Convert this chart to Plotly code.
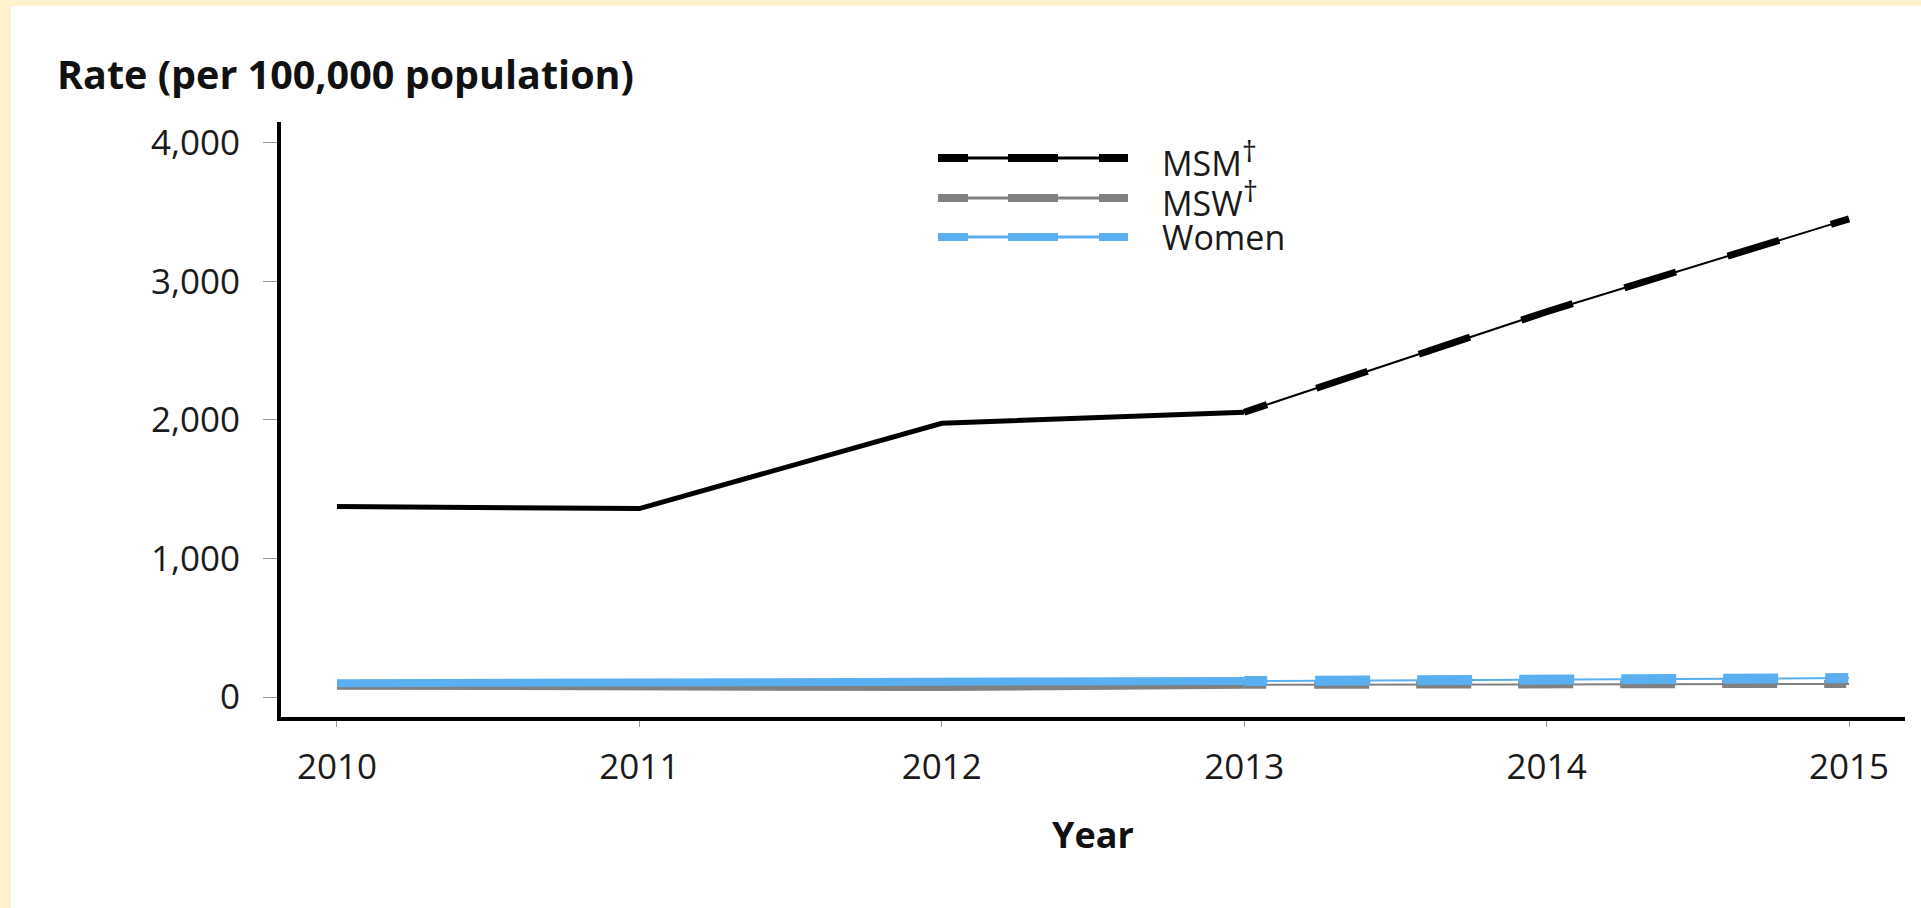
import plotly.graph_objects as go

years = [2010, 2011, 2012, 2013, 2014, 2015]
msm = [1375, 1360, 1975, 2055, 2780, 3450]
msw = [82, 80, 72, 88, 92, 95]
women = [100, 102, 110, 115, 125, 137]

legend_names = [
    "MSM<sup><span style='font-size:30px'>†</span></sup>",
    "MSW<sup><span style='font-size:30px'>†</span></sup>",
    "Women",
]
y_ticks = [0, 1000, 2000, 3000, 4000]

BLACK = "#000000"
GRAY = "#808080"
BLUE = "#5aaff0"
YELLOW = "#fff2cd"
FONT = "Open Sans"

# page geometry (px)
W, H = 1921, 908
L, R, T, B = 281, 16, 122, 191


def px_x(x):
    return (x - L) / (W - L - R)


def px_y(y):
    return (H - B - y) / (H - T - B)


fig = go.Figure()

series = [
    (msw, GRAY, 8, 8, "22px,48px,55px,47px,55px,47px,55px,47px,55px,47px,55px,47px"),
    (women, BLUE, 8, 10, "23px,48px,55px,47px,55px,47px,55px,47px,55px,47px,55px,47px"),
    (msm, BLACK, 5, 7, "24px,52px,54px,54px,54px,54px,54px,54px,54px,54px,54px,54px"),
]

for vals, color, w_solid, w_dash, dash in series:
    fig.add_trace(go.Scatter(
        x=years[:4], y=vals[:4], mode="lines",
        line=dict(color=color, width=w_solid),
        showlegend=False, hoverinfo="skip"
    ))
    fig.add_trace(go.Scatter(
        x=years[3:], y=vals[3:], mode="lines",
        line=dict(color=color, width=2),
        showlegend=False, hoverinfo="skip"
    ))
    fig.add_trace(go.Scatter(
        x=years[3:], y=vals[3:], mode="lines",
        line=dict(color=color, width=w_dash, dash=dash),
        showlegend=False, hoverinfo="skip"
    ))

shapes = [
    # cream frame strips
    dict(type="rect", xref="paper", yref="paper",
         x0=px_x(0), x1=px_x(11), y0=px_y(H), y1=px_y(0),
         fillcolor=YELLOW, line_width=0, layer="below"),
    dict(type="rect", xref="paper", yref="paper",
         x0=px_x(0), x1=px_x(W), y0=px_y(6), y1=px_y(0),
         fillcolor=YELLOW, line_width=0, layer="below"),
]

annotations = []

# hand-drawn legend
legend_rows = [158, 198, 237]
for name, color, row in zip(legend_names, [BLACK, GRAY, BLUE], legend_rows):
    shapes.append(dict(type="line", xref="paper", yref="paper",
                       x0=px_x(938), x1=px_x(1128), y0=px_y(row), y1=px_y(row),
                       line=dict(color=color, width=3)))
    shapes.append(dict(type="line", xref="paper", yref="paper",
                       x0=px_x(938), x1=px_x(1128), y0=px_y(row), y1=px_y(row),
                       line=dict(color=color, width=8,
                                 dash="30px,40px,50px,41px,29px,40px")))
    annotations.append(dict(
        text=name, xref="paper", yref="paper",
        x=px_x(1160), y=px_y(row), xanchor="left", yanchor="middle",
        showarrow=False, font=dict(family=FONT, size=34, color="#1a1a1a")
    ))

annotations.append(dict(
    text="<b>Rate (per 100,000 population)</b>", xref="paper", yref="paper",
    x=px_x(55), y=px_y(74), xanchor="left", yanchor="middle",
    showarrow=False, font=dict(family=FONT, size=39.5, color="#111111")
))
annotations.append(dict(
    text="<b>Year</b>", xref="paper", yref="paper",
    x=0.5, y=px_y(834), xanchor="center", yanchor="middle",
    showarrow=False, font=dict(family=FONT, size=36, color="#111111")
))

fig.update_layout(
    width=W, height=H,
    margin=dict(l=L, r=R, t=T, b=B),
    paper_bgcolor="white",
    plot_bgcolor="white",
    showlegend=False,
    shapes=shapes,
    annotations=annotations,
    font=dict(family=FONT, color="#1a1a1a"),
    xaxis=dict(
        range=[2009.815, 2015.185],
        tickvals=years,
        ticks="outside", ticklen=6, tickwidth=1, tickcolor="#999999",
        showline=True, linecolor=BLACK, linewidth=4,
        showgrid=False, zeroline=False,
        tickfont=dict(size=35, family=FONT, color="#1a1a1a"),
        ticklabelstandoff=10,
    ),
    yaxis=dict(
        range=[-144, 4149],
        tickvals=y_ticks,
        tickformat=",",
        ticks="outside", ticklen=14, tickwidth=1, tickcolor="#999999",
        showline=True, linecolor=BLACK, linewidth=4,
        showgrid=False, zeroline=False,
        tickfont=dict(size=35, family=FONT, color="#1a1a1a"),
        ticklabelstandoff=16,
    ),
)

fig.write_html(
    "out.html",
    config={"displayModeBar": False},
    post_script=(
        "document.body.style.margin='0';"
        "document.body.style.overflow='hidden';"
        "document.body.style.background='white';"
        "document.documentElement.style.background='white';"
    )
)
